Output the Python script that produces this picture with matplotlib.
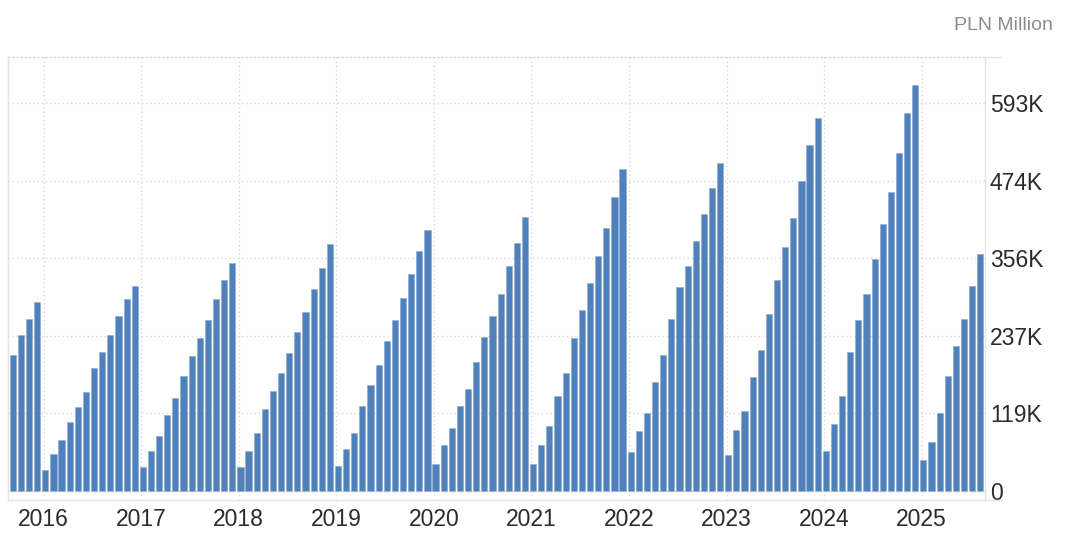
import matplotlib
matplotlib.use('Agg')
import matplotlib.pyplot as plt
from matplotlib.lines import Line2D
import numpy as np

plt.rcParams['font.family'] = ['Liberation Sans', 'DejaVu Sans']

# Monthly values (thousand PLN million), Sep 2015 .. Aug 2025
first_month = '2015-09'
values = [
    208, 238, 263, 289,                                              # 2015 Sep-Dec
    32, 57, 78, 105, 128, 151, 188, 213, 238, 268, 293, 314,         # 2016
    36, 61, 84, 116, 142, 176, 206, 234, 261, 293, 323, 348,         # 2017
    36, 61, 89, 125, 153, 180, 211, 243, 273, 309, 341, 378,         # 2018
    38, 64, 89, 130, 162, 192, 229, 261, 295, 332, 367, 399,         # 2019
    41, 70, 96, 130, 156, 197, 236, 268, 302, 344, 380, 419,         # 2020
    41, 70, 100, 146, 180, 234, 277, 318, 359, 403, 449, 492,        # 2021
    59, 91, 119, 167, 208, 263, 312, 344, 382, 424, 463, 502,        # 2022
    55, 94, 123, 174, 215, 270, 323, 373, 417, 474, 529, 570,        # 2023
    61, 102, 146, 213, 261, 302, 355, 408, 458, 517, 578, 621,       # 2024
    47, 75, 119, 176, 222, 263, 314, 362,                            # 2025 Jan-Aug
]
year_labels = ['2016', '2017', '2018', '2019', '2020',
               '2021', '2022', '2023', '2024', '2025']
y_ticks = [0, 118.6, 237.2, 355.8, 474.4, 593.0]
y_tick_labels = ['0', '119K', '237K', '356K', '474K', '593K']
unit_label = 'PLN Million'

W, H = 1065, 539
fig = plt.figure(figsize=(W / 100, H / 100), dpi=100)
L, R, T, B = 7.5, 985, 57, 500
ax = fig.add_axes([L / W, 1 - B / H, (R - L) / W, (B - T) / H])

x = np.arange(len(values))
ax.bar(x, values, width=0.76, color='#4f81bd', edgecolor='#8eaad3',
       linewidth=0.4, zorder=3)

jan_pos = [4 + 12 * k - 0.2 for k in range(len(year_labels))]
ax.set_xticks(jan_pos, year_labels)
ax.set_xlim(-0.65, 119.58)
ax.set_ylim(-13.8, 663.8)

ax.yaxis.tick_right()
ax.set_yticks(y_ticks, y_tick_labels)

grid_kw = dict(color='#d8d8d8', linestyle=(0, (1, 2)), linewidth=1)
ax.grid(True, axis='both', **grid_kw)
ax.set_axisbelow(True)

ax.tick_params(axis='y', length=0, pad=3.5, labelsize=16.5, labelcolor='#2b2b2b')
ax.tick_params(axis='x', length=0, pad=5.5, labelsize=16.5, labelcolor='#2b2b2b')

for s in ['left', 'right', 'bottom']:
    ax.spines[s].set_color('#e3e3e3')
    ax.spines[s].set_linewidth(1)
ax.spines['top'].set_color('#d8d8d8')
ax.spines['top'].set_linestyle((0, (1, 2)))
ax.spines['top'].set_linewidth(1)

# short extensions of top/bottom lines past the right axis
for yy in (T, B):
    fig.add_artist(Line2D([R / W, 1001 / W], [1 - yy / H, 1 - yy / H],
                          color='#e3e3e3', lw=1))

fig.text(1053 / W, 1 - 25 / H, unit_label, ha='right', va='center',
         color='#8c8c8c', fontsize=14)

fig.savefig('out.png', dpi=100)
